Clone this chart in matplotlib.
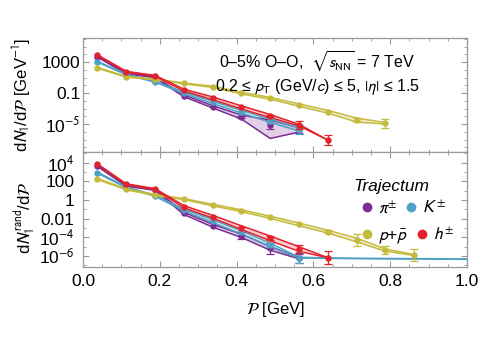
import numpy as np
import matplotlib
matplotlib.use("Agg")
import matplotlib.pyplot as plt
from matplotlib.lines import Line2D
from matplotlib.ticker import FixedLocator, FixedFormatter, MultipleLocator

plt.rcParams['font.family'] = ['Liberation Sans', 'DejaVu Sans']
plt.rcParams['mathtext.fontset'] = 'stixsans'

# ---------------- data (log10 values) ----------------
P0 = 0.0375
dP = 0.075

# top panel: dN1/dP
top_pi_c  = [3.68, 1.54, 1.03, -1.35, -2.77, -4.05, -5.13, -5.68]
top_pi_dn = [0.05, 0.05, 0.05, 0.12, 0.15, 0.30, 1.72, 0.35]
top_pi_up = [0.05, 0.05, 0.05, 0.12, 0.15, 0.20, 0.65, 0.23]
top_pi_eb = [0, 0, 0, 0, 0, 0.15, 0.5, 0.5]

top_K_c  = [3.04, 1.41, 0.46, -0.96, -2.20, -3.41, -4.57, -5.70]
top_K_bw = [0.05, 0.05, 0.05, 0.10, 0.15, 0.18, 0.20, 0.20]
top_K_eb = [0, 0, 0, 0, 0, 0.1, 0.3, 0.6]

top_p_c  = [2.26, 1.10, 0.77, 0.25, -0.19, -1.00, -1.68, -2.55, -3.41, -4.48, -4.90]
top_p_bw = [0.05, 0.05, 0.05, 0.05, 0.08, 0.10, 0.12, 0.15, 0.18, 0.25, 0.10]
top_p_eb = [0, 0, 0, 0, 0, 0, 0, 0, 0, 0.2, 0.55]

top_h_c  = [3.90, 1.75, 1.23, -0.61, -1.68, -2.85, -3.97, -5.13, -7.06]
top_h_bw = [0.05, 0.05, 0.05, 0.12, 0.18, 0.20, 0.20, 0.10, 0.0]
top_h_eb = [0, 0, 0, 0, 0, 0, 0.15, 0.5, 0.7]

# bottom panel: dN1^rand/dP
bot_pi_c  = [3.66, 1.54, 1.08, -1.43, -2.76, -3.84, -5.20, -6.27]
bot_pi_bw = [0.05, 0.05, 0.05, 0.12, 0.15, 0.18, 0.20, 0.05]
bot_pi_eb = [0, 0, 0, 0, 0, 0.4, 0.6, 0.5]

bot_K_c  = [2.94, 1.37, 0.46, -1.08, -2.26, -3.48, -4.84, -6.20,
            -6.25, -6.28, -6.30, -6.32, -6.34, -6.36]
bot_K_bw = [0.05, 0.05, 0.05, 0.10, 0.15, 0.18, 0.20, 0.05,
            0.02, 0.02, 0.02, 0.02, 0.02, 0.02]
bot_K_eb = [0, 0, 0, 0, 0, 0, 0.2, 0.6]

bot_p_c  = [2.26, 1.15, 0.54, 0.10, -0.54, -1.15, -1.86, -2.62, -3.40, -4.30, -5.38, -5.91]
bot_p_bw = [0.05, 0.05, 0.05, 0.05, 0.08, 0.10, 0.12, 0.15, 0.15, 0.20, 0.12, 0.05]
bot_p_eb = [0, 0, 0, 0, 0, 0, 0, 0, 0.15, 0.6, 0.4, 0.6]

bot_h_c  = [3.84, 1.69, 1.18, -0.72, -1.79, -2.97, -4.12, -5.27, -6.20]
bot_h_bw = [0.05, 0.05, 0.05, 0.12, 0.15, 0.20, 0.25, 0.25, 0.0]
bot_h_eb = [0, 0, 0, 0, 0, 0, 0.2, 0.4, 0.7]

col_pi = '#7B2C95'
col_K = '#4FA0C2'
col_p = '#C4BA3C'
col_h = '#E3222B'

top_ticks = [1e3, 1e-1, 1e-5]
top_ticklabels = ['1000', '0.1', r'10$^{-5}$']
bot_ticks = [1e4, 1e2, 1, 1e-2, 1e-4, 1e-6]
bot_ticklabels = [r'10$^{4}$', '100', '1', '0.01', r'10$^{-4}$', r'10$^{-6}$']

legend_title = 'Trajectum'
legend_row1 = [r'$\pi^{\pm}$', r'$K^{\pm}$']
legend_row2 = [r'$p$+$\bar{p}$', r'$h^{\pm}$']


def draw(ax, c, dn, up, eb, color):
    c = np.asarray(c, float)
    dn = np.asarray(dn, float)
    up = np.asarray(up, float)
    x = P0 + dP * np.arange(len(c))
    lo = 10 ** (c - dn)
    hi = 10 ** (c + up)
    ax.fill_between(x, lo, hi, color=color, alpha=0.22, lw=0, zorder=2)
    ax.plot(x, lo, color=color, lw=1.1, zorder=3)
    ax.plot(x, hi, color=color, lw=1.1, zorder=3)
    n = len(eb)
    xm = x[:n]
    cm = 10 ** c[:n]
    ax.plot(xm, cm, 'o', color=color, ms=3.6, zorder=4)
    eb = np.asarray(eb, float)
    m = eb > 0
    if m.any():
        yl = cm[m] - cm[m] * 10 ** (-eb[m])
        yu = cm[m] * 10 ** eb[m] - cm[m]
        ax.errorbar(xm[m], cm[m], yerr=[yl, yu], fmt='none', ecolor=color,
                    elinewidth=0.9, capsize=2.8, capthick=0.9, zorder=4)


fig = plt.figure(figsize=(4.78, 3.41), dpi=100)
L = 83 / 478
W = 384 / 478
ax1 = fig.add_axes([L, (341 - 152) / 341, W, 114 / 341])
ax2 = fig.add_axes([L, (341 - 267) / 341, W, 115 / 341])

for ax in (ax1, ax2):
    ax.set_yscale('log')
    ax.set_xlim(0, 1.0)
    ax.xaxis.set_major_locator(MultipleLocator(0.2))
    ax.xaxis.set_minor_locator(MultipleLocator(0.05))
    for s in ax.spines.values():
        s.set_color('#999999')
        s.set_linewidth(0.9)
    ax.tick_params(which='both', direction='in', top=True, right=True,
                   color='#999999', labelsize=12.5)
    ax.tick_params(which='major', length=4, width=0.8)
    ax.tick_params(which='minor', length=2, width=0.6)

# top panel
draw(ax1, top_pi_c, top_pi_dn, top_pi_up, top_pi_eb, col_pi)
draw(ax1, top_K_c, top_K_bw, top_K_bw, top_K_eb, col_K)
draw(ax1, top_p_c, top_p_bw, top_p_bw, top_p_eb, col_p)
draw(ax1, top_h_c, top_h_bw, top_h_bw, top_h_eb, col_h)
ax1.set_ylim(10 ** -8.6, 10 ** 6.1)
ax1.yaxis.set_major_locator(FixedLocator(top_ticks))
ax1.yaxis.set_major_formatter(FixedFormatter(top_ticklabels))
ax1.yaxis.set_minor_locator(FixedLocator([10.0 ** k for k in range(-9, 7)]))
ax1.yaxis.set_minor_formatter(FixedFormatter([]))
ax1.tick_params(axis='x', labelbottom=False)
ax1.tick_params(axis='y', pad=2)
ax1.set_ylabel(r'd$N_1$/d$\mathcal{P}$ [GeV$^{-1}$]', fontsize=12)
ax1.yaxis.set_label_coords(-0.13, 0.5)

ax1.text(0.61, 0.79, r'0–5% O–O,  $\sqrt{s_{\rm NN}}$ = 7 TeV', transform=ax1.transAxes,
         ha='center', va='center', fontsize=11.5)
ax1.text(0.61, 0.565, r'0.2 ≤ $p_{\rm T}$ (GeV/$c$) ≤ 5, $|\eta|$ ≤ 1.5', transform=ax1.transAxes,
         ha='center', va='center', fontsize=11.5)

# bottom panel
draw(ax2, bot_pi_c, bot_pi_bw, bot_pi_bw, bot_pi_eb, col_pi)
draw(ax2, bot_K_c, bot_K_bw, bot_K_bw, bot_K_eb, col_K)
draw(ax2, bot_p_c, bot_p_bw, bot_p_bw, bot_p_eb, col_p)
draw(ax2, bot_h_c, bot_h_bw, bot_h_bw, bot_h_eb, col_h)
ax2.set_ylim(10 ** -7.2, 10 ** 5.16)
ax2.yaxis.set_major_locator(FixedLocator(bot_ticks))
ax2.yaxis.set_major_formatter(FixedFormatter(bot_ticklabels))
ax2.yaxis.set_minor_locator(FixedLocator([10.0 ** k for k in range(-8, 6)]))
ax2.yaxis.set_minor_formatter(FixedFormatter([]))
ax2.tick_params(axis='y', pad=6)
ax2.tick_params(axis='x', pad=5)
ax2.set_ylabel(r'd$N_1^{\rm rand}$/d$\mathcal{P}$', fontsize=12)
ax2.yaxis.set_label_coords(-0.12, 0.43)
ax2.set_xlabel(r'$\mathcal{P}$ [GeV]', fontsize=12)
ax2.xaxis.set_label_coords(0.5, -0.29)

# legend: title plus two rows
ax2.text(0.703, 0.70, legend_title, transform=ax2.transAxes, ha='left', va='center',
         fontsize=12.5, style='italic')
h1 = [Line2D([], [], ls='none', marker='o', ms=6, color=c) for c in (col_pi, col_K)]
h2 = [Line2D([], [], ls='none', marker='o', ms=6, color=c) for c in (col_p, col_h)]
kw = dict(ncol=2, loc='center left', frameon=False, fontsize=12.5, handlelength=0.8,
          handletextpad=0.25, columnspacing=0.35, borderaxespad=0, borderpad=0)
leg1 = ax2.legend(h1, legend_row1, bbox_to_anchor=(0.722, 0.52), **kw)
ax2.add_artist(leg1)
leg2 = ax2.legend(h2, legend_row2, bbox_to_anchor=(0.722, 0.27), **kw)

fig.savefig('out.png', dpi=100)
